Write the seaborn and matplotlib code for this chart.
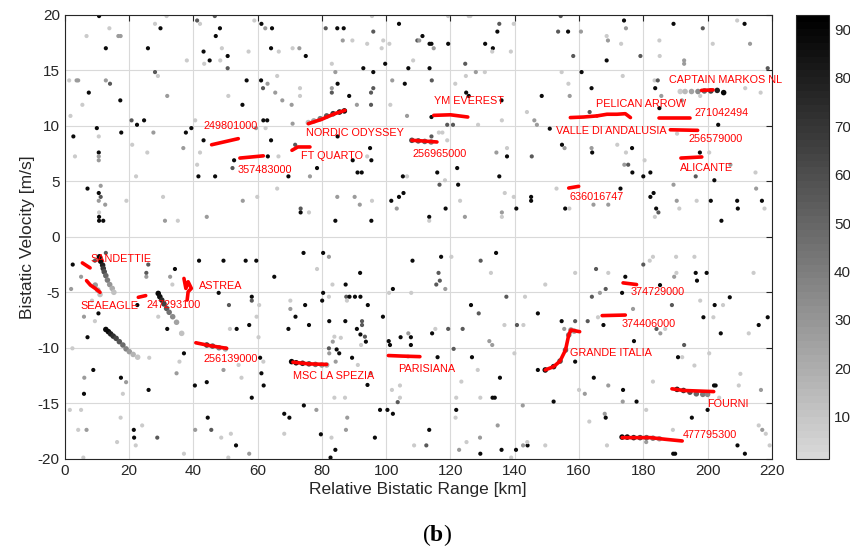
import numpy as np
import pandas as pd
import matplotlib
matplotlib.use('Agg')
import matplotlib.pyplot as plt
import seaborn as sns
from matplotlib.colors import LinearSegmentedColormap, Normalize

# ==========================================
# 1. DATA
# ==========================================
# background detections: (range km, velocity m/s, level)
clutter_ul = [
    (10.7,19.9,88),(13.9,18.8,8),(6.8,18.1,8),(16.7,18.1,28),(17.4,18.1,28),(12.8,17.0,88),(25.9,17.0,88),
    (28.1,19.2,8),(29.8,18.8,88),(31.7,19.9,8),(41.2,19.5,55),(42.1,19.2,8),(46.7,19.9,55),(48.3,18.8,88),
    (47.0,18.1,88),(43.2,16.7,88),(48.9,17.0,8),(50.7,16.3,88),(45.1,15.9,88),(43.4,15.6,8),(48.4,15.9,8),
    (50.7,15.2,55),(38.0,15.9,8),(57.2,16.7,8),(61.2,19.2,88),(62.4,18.8,28),(64.5,18.8,88),(59.0,19.5,8),
    (64.2,17.0,88),(66.6,16.7,8),(70.9,17.0,8),(73.0,17.0,28),(75.0,16.3,88),(81.2,18.8,55),(84.8,18.8,88),
    (86.8,18.8,88),(86.5,17.7,28),(89.5,17.7,8),(94.1,17.4,8),(96.0,18.5,55),(95.6,19.9,8),(98.6,17.0,8),
    (99.1,17.7,8),(101.0,17.4,8),(104.0,19.2,88),(109.7,17.7,55),(99.7,15.6,88),(106.9,15.2,88),(108.4,15.9,8),
    (92.9,15.2,88),(96.0,14.85,88),(83.1,15.6,8),(84.2,14.85,28),
    (1.4,14.1,8),(3.7,14.1,28),(4.2,14.1,28),(7.5,13.0,88),(12.8,14.1,28),(14.1,13.8,55),(5.5,11.9,8),
    (17.3,12.3,88),(28.1,14.85,55),(29.0,14.5,8),(31.9,12.7,28),(1.8,10.9,8),(20.8,10.5,55),(22.5,10.1,88),
    (24.7,10.5,88),(39.4,9.8,88),(40.6,10.5,8),(50.9,12.7,8),(55.3,11.9,88),(56.6,14.1,88),(61.1,14.1,88),
    (61.7,13.4,55),(63.1,13.8,28),(66.1,14.5,8),(65.5,13.0,28),(67.7,12.3,28),(73.2,13.4,8),(73.2,12.7,8),
    (70.6,11.9,28),(61.8,10.5,88),(63.0,10.5,88),(59.5,9.8,28),(70.9,10.2,28),(83.1,13.4,28),(84.9,13.8,88),
    (83.1,13.0,55),(88.5,12.7,88),(90.9,11.9,28),(95.3,11.9,55),(95.3,13.0,55),(96.0,13.4,55),(101.3,11.9,8),
    (101.9,14.1,28),(105.8,13.8,88),(106.5,10.9,28),
    (2.7,9.05,88),(10.0,9.8,88),(10.6,9.05,8),(17.6,9.4,88),(3.2,7.25,8),(10.6,7.6,88),(10.6,7.25,28),
    (10.6,6.9,28),(21.0,8.3,8),(25.7,7.6,8),(27.6,9.4,28),(37.7,9.4,88),(36.9,8.0,28),(22.2,5.45,8),
    (43.2,8.7,88),(42.1,7.6,8),(41.2,6.5,8),(41.6,5.45,88),(46.8,5.45,88),(52.7,6.9,88),(52.2,6.2,55),
    (63.2,7.25,88),(66.5,7.25,8),(62.5,9.8,8),(64.2,8.7,88),(69.6,5.45,88),(71.7,8.3,55),(76.3,5.45,28),
    (78.5,6.2,88),(84.9,9.05,88),(89.6,6.9,88),(91.1,5.8,88),(92.4,5.8,88),(95.0,8.0,88),(94.1,7.25,8),
    (95.4,6.9,88),(105.2,5.45,88),(106.5,5.45,8),
    (7.1,4.35,88),(10.6,3.95,88),(11.2,3.6,55),(10.6,3.25,28),(12.6,2.9,28),(11.2,4.6,28),(10.7,2.2,8),
    (10.7,1.8,88),(10.7,1.45,88),(12.0,1.45,88),(19.2,3.25,8),(31.2,1.45,28),(35.2,1.45,8),(30.6,3.6,8),
    (44.2,1.8,28),(55.4,3.25,28),(59.9,3.6,8),(66.1,4.35,8),(73.4,2.55,55),(73.4,2.2,88),(76.0,2.2,8),
    (84.2,1.45,88),(84.8,3.6,28),(90.2,3.6,28),(91.8,2.9,28),(95.6,3.25,8),(95.4,1.45,88),(101.6,3.25,88),
    (104.0,3.6,88),(105.4,3.95,88),(103.3,2.55,28),
]
clutter_ur = [
    (111.3,18.1,88),(110.3,17.7,28),(113.5,17.4,88),(114.1,17.4,88),(114.8,17.0,28),(119.3,17.4,88),
    (119.3,19.9,8),(125.7,19.9,8),(126.2,19.9,8),(135.2,19.2,55),(134.6,18.5,88),(130.8,17.4,88),
    (133.2,17.0,88),(133.0,16.7,8),(139.7,19.2,8),(124.6,15.6,55),(113.5,15.2,88),(127.9,14.85,28),
    (130.7,14.85,8),(124.8,14.5,8),(114.2,14.1,55),(121.5,13.8,8),(124.9,13.0,88),(125.7,12.7,88),
    (135.9,12.3,88),(154.3,19.9,55),(153.5,18.5,55),(156.6,18.5,88),(160.6,18.5,28),(138.8,16.7,8),
    (158.2,16.3,55),(168.6,18.1,8),(169.0,17.7,28),(168.6,15.9,88),(174.0,19.5,88),(174.6,18.8,28),
    (173.1,17.4,8),(179.1,16.3,55),(185.1,16.3,8),(189.4,19.2,88),(185.0,17.7,8),(192.7,15.9,28),
    (192.7,15.6,28),(198.5,18.8,55),(201.6,17.4,8),(209.2,19.5,8),(211.5,19.2,88),(213.2,17.4,28),
    (218.7,15.2,55),
    (156.7,13.8,8),(160.8,14.85,88),(154.6,14.85,8),(157.1,12.7,28),(163.9,13.4,88),(173.6,14.5,8),
    (183.5,14.1,8),(184.5,14.1,55),(183.7,13.4,88),(185.6,12.7,28),(185.0,11.6,88),(192.0,12.3,28),
    (197.7,12.7,8),(211.7,13.4,8),(216.5,13.0,8),(148.4,12.7,88),(143.8,11.25,8),(146.1,10.5,28),
    (146.9,10.1,28),(136.0,10.5,8),(128.6,10.1,8),(163.3,11.25,55),(114.1,10.8,88),(119.0,10.1,55),
    (120.8,10.1,55),(116.4,9.4,8),(117.5,9.4,8),(114.1,9.05,55),(119.0,8.7,8),(150.9,9.75,88),
    (154.7,8.3,88),(155.5,8.0,28),(163.9,8.0,28),(164.1,7.6,88),(171.9,8.3,8),(176.5,8.0,88),
    (174.6,7.6,8),(180.4,6.9,8),(174.1,6.5,28),(175.3,6.5,55),(176.6,5.8,88),(180.0,5.45,88),
    (182.2,5.8,88),(190.5,9.3,8),(203.3,10.1,88),(200.5,7.6,8),(197.6,7.6,88),(196.3,5.45,55),
    (202.1,5.1,88),(207.1,6.5,28),(214.9,5.8,8),(134.3,7.6,28),(137.6,8.0,8),(137.6,7.25,88),
    (145.3,7.25,55),(122.1,6.2,88),(115.9,5.8,88),(135.2,5.45,88),(118.3,5.1,8),
    (116.6,4.7,55),(122.4,4.7,88),(136.9,3.95,8),(139.7,3.6,8),(145.1,3.6,88),(145.1,3.25,88),
    (140.5,2.55,88),(136.0,2.2,28),(136.0,1.8,8),(123.0,3.25,8),(118.5,2.55,88),(124.5,1.8,28),
    (113.4,1.8,88),(113.4,1.45,8),(153.0,4.35,8),(155.7,2.55,88),(157.0,2.55,8),(164.5,2.9,28),
    (169.1,2.9,28),(172.9,4.35,88),(182.2,3.6,88),(183.2,3.95,88),(184.0,2.55,88),(184.7,2.2,55),
    (183.6,1.8,8),(190.4,3.25,28),(189.4,4.7,28),(191.2,2.55,8),(196.6,3.25,8),(201.0,3.25,88),
    (204.3,1.45,88),(209.2,3.25,88),(209.4,2.55,88),(215.1,4.35,28),(216.9,3.25,88),(217.7,2.55,8),
]
clutter_ll = [
    (2.5,-2.5,88),(2.0,-4.7,28),(5.1,-3.6,28),(12.8,-1.45,55),(9.4,-2.15,55),(26.0,-2.5,55),(25.4,-3.25,55),
    (25.4,-3.6,28),(34.3,-2.9,88),(32.8,-3.6,28),(33.5,-4.3,8),(41.8,-2.15,88),(49.4,-2.15,88),
    (56.3,-2.15,88),(59.6,-2.15,88),(65.2,-3.6,88),(74.3,-1.45,88),(80.4,-1.45,88),(82.2,-1.8,28),
    (78.5,-2.9,8),(91.9,-3.25,88),(87.4,-4.3,88),(83.3,-4.3,8),(102.1,-4.7,88),(100.9,-5.05,8),
    (107.8,-5.05,8),(108.2,-2.15,88),(80.4,-5.05,88),(82.2,-5.4,8),(80.1,-5.75,88),(87.6,-5.4,55),
    (88.6,-5.4,88),(90.3,-5.4,88),(92.0,-5.4,88),(94.3,-6.15,88),(99.0,-7.2,88),(87.8,-5.75,8),
    (92.5,-7.6,55),(92.5,-7.95,55),(90.9,-8.3,88),(92.0,-8.8,88),(93.4,-9.0,55),(93.7,-9.45,88),
    (92.2,-9.75,8),(87.3,-7.6,88),(82.3,-7.6,88),(83.9,-9.0,8),(83.4,-9.45,28),(85.9,-9.1,8),
    (82.2,-10.05,55),(82.3,-10.5,28),(84.6,-10.15,88),(85.4,-10.5,88),(89.4,-10.9,88),(84.3,-11.25,28),
    (91.2,-11.55,8),(95.2,-12.3,28),(94.2,-13.35,88),(83.9,-14.5,8),(87.2,-14.5,8),(101.2,-9.75,88),
    (100.8,-9.4,88),(104.5,-9.05,88),(106.9,-8.7,28),(107.7,-9.05,88),(107.7,-9.75,88),(106.8,-10.8,8),
    (101.8,-13.8,8),(104.3,-13.4,8),(104.3,-14.5,8),(103.6,-14.9,55),(100.4,-15.6,88),(102.1,-15.95,88),
    (98.1,-15.6,88),(108.7,-18.8,8),(96.5,-18.1,88),(87.9,-16.3,28),(87.5,-17.4,28),(83.0,-18.1,8),
    (79.7,-17.8,88),(84.2,-19.2,88),(82.7,-19.9,88),(69.9,-16.3,88),(68.3,-15.95,88),(74.4,-15.2,88),
    (78.3,-15.6,28),(68.3,-17.75,8),(58.2,-14.5,88),(55.0,-12.7,8),(61.2,-12.3,88),(61.9,-13.4,88),
    (60.8,-10.9,88),(61.8,-11.25,8),(54.1,-11.55,8),(49.4,-12.0,28),(44.2,-13.1,88),(40.5,-13.4,88),
    (34.8,-12.3,28),(37.1,-10.5,88),(35.7,-11.25,8),(26.3,-10.9,8),(26.1,-13.8,88),(17.5,-12.7,88),
    (19.1,-13.1,28),(18.1,-14.15,8),(8.9,-12.0,88),(6.1,-12.7,28),(6.0,-14.15,88),(1.6,-15.6,8),
    (5.1,-15.6,8),(4.2,-17.4,8),(6.8,-17.4,28),(17.4,-16.3,8),(21.5,-17.4,88),(24.1,-17.0,8),
    (21.6,-18.1,88),(22.1,-18.8,8),(16.3,-18.5,8),(28.8,-18.1,55),(37.1,-19.55,8),(40.6,-17.4,28),
    (44.5,-16.3,88),(45.6,-17.4,55),(48.7,-18.1,8),(51.7,-17.75,8),(53.3,-18.8,88),(57.4,-19.55,28),
    (50.9,-19.9,8),(5.8,-19.9,8),(59.7,-7.2,8),(60.5,-6.15,8),(58.2,-5.4,88),(58.2,-5.75,55),
    (57.4,-7.95,88),(53.5,-8.3,88),(51.4,-8.3,8),(60.3,-9.05,8),(47.9,-5.05,88),(51.1,-6.15,55),
    (70.2,-5.75,8),(70.2,-6.5,28),(74.8,-6.15,88),(71.8,-7.2,88),(76.0,-7.95,88),(69.6,-8.3,88),
    (22.6,-6.15,88),(10.5,-6.9,88),(8.5,-5.75,8),(6.0,-7.2,28),(9.4,-7.6,8),(7.1,-9.05,88),
    (2.4,-10.05,8),(31.9,-8.3,88),(36.3,-8.7,8),(29.1,-7.2,8),
]
clutter_lr = [
    (117.1,-1.8,88),(120.3,-1.8,8),(129.4,-2.15,55),(134.2,-1.45,88),(132.6,-3.25,8),(116.3,-3.25,55),
    (116.7,-3.95,55),(115.6,-4.3,55),(118.4,-4.7,28),(137.4,-5.4,55),(143.2,-5.4,8),(149.5,-4.3,8),
    (158.8,-3.25,8),(165.3,-2.9,55),(169.1,-3.25,8),(168.3,-4.7,55),(166.5,-5.05,28),(164.0,-5.4,55),
    (173.4,-5.05,88),(174.4,-3.6,88),(180.0,-2.5,55),(182.0,-2.15,8),(183.0,-1.8,8),(185.2,-4.35,88),
    (190.2,-1.8,8),(195.9,-1.8,8),(190.3,-3.25,8),(189.6,-3.6,28),(196.3,-3.25,88),(199.7,-3.25,88),
    (196.7,-3.95,88),(214.3,-3.25,8),(126.4,-6.15,88),(128.8,-6.9,55),(136.8,-7.95,8),(140.7,-7.95,55),
    (142.7,-7.95,8),(147.2,-6.9,88),(154.6,-7.6,88),(158.8,-7.6,55),(162.7,-7.6,55),(155.4,-8.3,28),
    (167.6,-7.95,88),(165.9,-7.25,8),(176.8,-6.5,28),(188.9,-6.15,55),(202.2,-6.15,88),(204.8,-6.15,8),
    (206.9,-5.45,88),(197.7,-5.75,8),(198.7,-7.25,88),(201.8,-7.25,8),(204.1,-8.7,88),(212.8,-8.7,8),
    (215.9,-7.95,88),(218.7,-7.25,88),(184.1,-8.3,55),(186.8,-8.3,8),(185.3,-8.7,28),(192.7,-9.75,55),
    (177.1,-9.4,88),(114.3,-8.7,88),(115.3,-8.3,8),(119.3,-8.3,55),(123.8,-8.3,55),(132.1,-9.4,28),
    (133.0,-9.75,28),(121.0,-10.1,55),(139.9,-10.5,8),(126.7,-10.85,88),(116.0,-10.85,88),(128.5,-12.0,8),
    (123.4,-13.05,8),(135.4,-12.7,88),(147.2,-12.0,88),(158.8,-11.25,88),(190.8,-10.85,88),
    (192.1,-10.85,8),(200.5,-10.5,8),(195.9,-11.6,8),(183.0,-13.05,8),(164.6,-12.7,88),(169.1,-13.4,28),
    (173.7,-13.8,88),(160.0,-13.8,8),(161.8,-14.15,28),(121.8,-14.5,8),(129.3,-14.5,8),(133.1,-14.5,88),
    (133.8,-14.5,88),(152.1,-14.85,88),(142.5,-15.2,28),(121.8,-15.6,88),(121.6,-16.3,8),(173.6,-14.85,28),
    (177.9,-14.85,88),(180.9,-15.6,8),(200.0,-15.6,88),(202.0,-13.4,88),(202.5,-13.4,88),(203.6,-14.5,8),
    (209.7,-13.4,8),(210.2,-12.35,8),(216.6,-13.8,28),(168.0,-15.95,28),(168.3,-16.3,88),(163.2,-16.65,8),
    (195.1,-16.3,88),(189.2,-17.4,8),(215.9,-17.0,8),(217.0,-17.4,28),(218.1,-17.75,8),(134.7,-17.0,28),
    (129.2,-18.1,28),(125.0,-18.5,8),(113.4,-17.4,88),(112.5,-18.8,55),(122.7,-19.2,28),(129.3,-19.55,88),
    (135.9,-19.2,88),(140.4,-19.2,88),(142.6,-18.8,28),(144.0,-18.8,88),(143.9,-18.5,8),(149.5,-18.8,8),
    (168.7,-18.8,8),(180.9,-18.5,28),(189.3,-19.55,88),(189.9,-19.55,88),(209.3,-18.8,88),
    (211.6,-19.55,88),(219.3,-18.8,8),(138.9,-19.9,8),
]

# shaded target tracks (range, velocity, level)
track_dots = [
    # diagonal tracks on the left
    (10.8,-1.8,88),(11.2,-2.2,88),(11.8,-2.55,80),(12.0,-2.85,70),(12.3,-3.15,60),(12.8,-3.5,50),
    (13.3,-3.9,40),(14.0,-4.3,30),(14.8,-4.65,20),(15.3,-5.0,12),
    (9.5,-4.35,28),(10.3,-4.8,20),(11.0,-5.2,12),
    (12.8,-8.35,88),(13.6,-8.55,88),(14.3,-8.75,80),(15.1,-8.95,72),(16.0,-9.15,64),(17.0,-9.45,56),
    (18.1,-9.75,48),(19.1,-10.1,38),(20.1,-10.35,28),(21.3,-10.6,18),(22.7,-10.85,10),
    (29.1,-5.1,88),(29.6,-5.4,85),(30.2,-5.7,75),(30.9,-6.05,65),(31.7,-6.45,55),(32.5,-6.8,45),
    (33.6,-7.2,35),(34.8,-7.7,25),(36.4,-8.7,12),
    # NORDIC ODYSSEY
    (75.8,10.3,15),(77.5,10.45,25),(79.5,10.65,40),(81.5,10.9,55),(83.5,11.1,70),(85.5,11.25,85),(87.0,11.35,90),
    # CAPTAIN MARKOS NL
    (191.5,13.1,8),(193.0,13.1,15),(195.0,13.1,25),(197.0,13.1,35),(199.0,13.15,50),(201.0,13.15,65),
    (203.0,13.2,80),(205.0,13.0,90),
    # MSC LA SPEZIA
    (70.6,-11.25,90),(72.0,-11.35,85),(74.0,-11.4,75),(76.0,-11.45,60),(78.0,-11.5,45),(80.0,-11.55,30),(81.5,-11.55,20),
    # 477795300
    (173.4,-18.05,90),(175.0,-18.05,88),(177.0,-18.1,75),(179.0,-18.1,62),(181.0,-18.1,50),(183.0,-18.15,38),(185.0,-18.2,25),
    # FOURNI
    (190.5,-13.75,80),(192.5,-13.85,70),(194.5,-14.0,60),(196.5,-14.15,50),(198.5,-14.2,40),(200.0,-14.2,35),
    # 256139000
    (44.2,-9.75,70),(46.0,-9.85,55),(48.0,-10.0,40),(50.0,-10.1,25),
    # GRANDE ITALIA
    (149.5,-12.0,90),(152.1,-11.7,80),(154.1,-11.2,60),(155.8,-10.2,50),(156.8,-8.85,40),(157.5,-8.4,30),(158.5,-8.5,25),
    # 256965000
    (108.0,8.7,60),(110.0,8.65,55),(112.0,8.6,50),(114.0,8.55,40),
]

# red ship tracks and AIS labels
ship_names = ['SANDETTIE', 'SEAEAGLE', '247293100', 'ASTREA', '256139000', 'MSC LA SPEZIA',
              'PARISIANA', 'GRANDE ITALIA', '374729000', '374406000', 'FOURNI', '477795300',
              '249801000', '357483000', 'FT QUARTO', 'NORDIC ODYSSEY', '256965000', 'YM EVEREST',
              'VALLE DI ANDALUSIA', 'PELICAN ARROW', '271042494', '256579000', 'CAPTAIN MARKOS NL',
              'ALICANTE', '636016747']
ship_x = [[5.5, 7.9], [6.8, 8.0, 9.5, 11.0], [22.9, 25.2], [37.1, 37.7, 38.4, 39.4, 38.4, 38.1],
          [40.8, 45.0, 50.4], [71.0, 76.0, 81.5], [100.7, 105.0, 110.5],
          [149.5, 152.1, 154.1, 155.8, 156.8, 157.5, 160.2], [173.7, 177.9], [167.2, 174.4],
          [188.9, 192.6, 201.9], [173.4, 182.2, 186.9, 192.1], [45.7, 54.0], [54.5, 61.8],
          [70.7, 72.5, 76.3], [75.8, 80.0, 84.0, 87.2], [108.0, 111.0, 115.8], [114.8, 120.0, 125.4],
          [157.3, 161.4, 165.6], [165.6, 168.7, 171.8, 174.4, 176.0], [185.0, 194.4], [188.4, 196.9],
          [198.1, 201.7], [191.7, 198.2], [156.8, 159.9]]
ship_y = [[-2.35, -2.8], [-3.95, -4.35, -4.65, -5.0], [-5.45, -5.3], [-3.75, -4.65, -4.05, -4.65, -4.95, -5.7],
          [-9.55, -9.8, -10.05], [-11.3, -11.45, -11.5], [-10.7, -10.75, -10.8],
          [-12.0, -11.7, -11.2, -10.2, -8.85, -8.4, -8.55], [-4.15, -4.3], [-7.1, -7.05],
          [-13.7, -13.85, -13.95], [-18.1, -18.1, -18.25, -18.4], [8.3, 8.85], [7.1, 7.3],
          [7.8, 8.1, 8.1], [10.2, 10.6, 11.1, 11.4], [8.7, 8.65, 8.55], [10.95, 11.0, 10.8],
          [10.75, 10.8, 10.9], [10.9, 11.05, 11.05, 11.1, 10.75], [10.75, 10.75], [9.65, 9.6],
          [13.2, 13.25], [7.1, 7.2], [4.4, 4.55]]
label_x = [8.1, 4.8, 25.3, 41.9, 43.1, 71.1, 103.7, 157.1, 176.0, 173.1, 200.0, 192.4,
           43.3, 53.8, 73.4, 75.1, 108.2, 115.0, 152.7, 165.4, 195.9, 194.1, 187.9, 191.5, 157.1]
label_y = [-2.0, -6.2, -6.15, -4.4, -11.05, -12.5, -11.9, -10.5, -5.0, -7.85, -15.05, -17.85,
           10.0, 6.05, 7.3, 9.35, 7.5, 12.25, 9.55, 12.0, 11.15, 8.8, 14.1, 6.2, 3.6]

x_ticks = list(range(0, 221, 20))
y_ticks = list(range(-20, 21, 5))
cbar_ticks = list(range(10, 91, 10))

# ==========================================
# 2. PLOT
# ==========================================
sns.set_theme(style='white')
plt.rcParams['font.family'] = ['Liberation Sans', 'DejaVu Sans']
plt.rcParams['axes.unicode_minus'] = False
plt.rcParams['mathtext.fontset'] = 'custom'
plt.rcParams['mathtext.rm'] = 'Liberation Serif'
plt.rcParams['mathtext.bf'] = 'Liberation Serif:bold'

cmap = LinearSegmentedColormap.from_list('gray_r', [(0.85, 0.85, 0.85), (0, 0, 0)], N=64)
norm = Normalize(vmin=1.3, vmax=93.0)

clutter = pd.DataFrame(clutter_ul + clutter_ur + clutter_ll + clutter_lr, columns=['rng', 'vel', 'lev'])
tracks = pd.DataFrame(track_dots, columns=['rng', 'vel', 'lev'])

fig = plt.figure(figsize=(8.5, 5.54), dpi=100)
ax = fig.add_axes([0.0761, 0.172, 0.832, 0.801])

ax.grid(True, color='#d9d9d9', linewidth=0.8, zorder=0)
ax.set_axisbelow(True)

sns.scatterplot(data=clutter, x='rng', y='vel', hue='lev', palette=cmap, hue_norm=norm,
                s=9, linewidth=0, legend=False, ax=ax, zorder=2)
sns.scatterplot(data=tracks, x='rng', y='vel', hue='lev', palette=cmap, hue_norm=norm,
                s=16, linewidth=0, legend=False, ax=ax, zorder=3)

for name, xs, ys, lx, ly in zip(ship_names, ship_x, ship_y, label_x, label_y):
    ax.plot(xs, ys, color='red', lw=2.6, solid_capstyle='round', zorder=4)
    ax.text(lx, ly, name, color='red', fontsize=7.8, ha='left', va='center',
            zorder=5, clip_on=False)

ax.set_xlim(0, 220)
ax.set_ylim(-20, 20)
ax.set_xticks(x_ticks)
ax.set_yticks(y_ticks)
ax.tick_params(direction='in', length=4, width=0.8, top=True, right=True,
               labelsize=11, colors='#262626')
ax.tick_params(axis='x', pad=4)
for sp in ax.spines.values():
    sp.set_color('#262626')
    sp.set_linewidth(0.8)
ax.set_xlabel('Relative Bistatic Range [km]', fontsize=12.5, color='#262626', labelpad=3)
ax.set_ylabel('Bistatic Velocity [m/s]', fontsize=12.5, color='#262626', labelpad=2)

cax = fig.add_axes([0.9365, 0.172, 0.039, 0.801])
sm = plt.cm.ScalarMappable(norm=norm, cmap=cmap)
cb = fig.colorbar(sm, cax=cax)
cb.set_ticks(cbar_ticks)
cax.tick_params(direction='in', length=3, width=0.8, labelsize=11, colors='#262626')
cb.outline.set_linewidth(0.8)
cb.outline.set_edgecolor('#262626')

fig.text(0.514, 0.035, r'$(\mathbf{b})$', fontsize=17, ha='center', va='center', color='black')

fig.savefig('out.png', dpi=100)
